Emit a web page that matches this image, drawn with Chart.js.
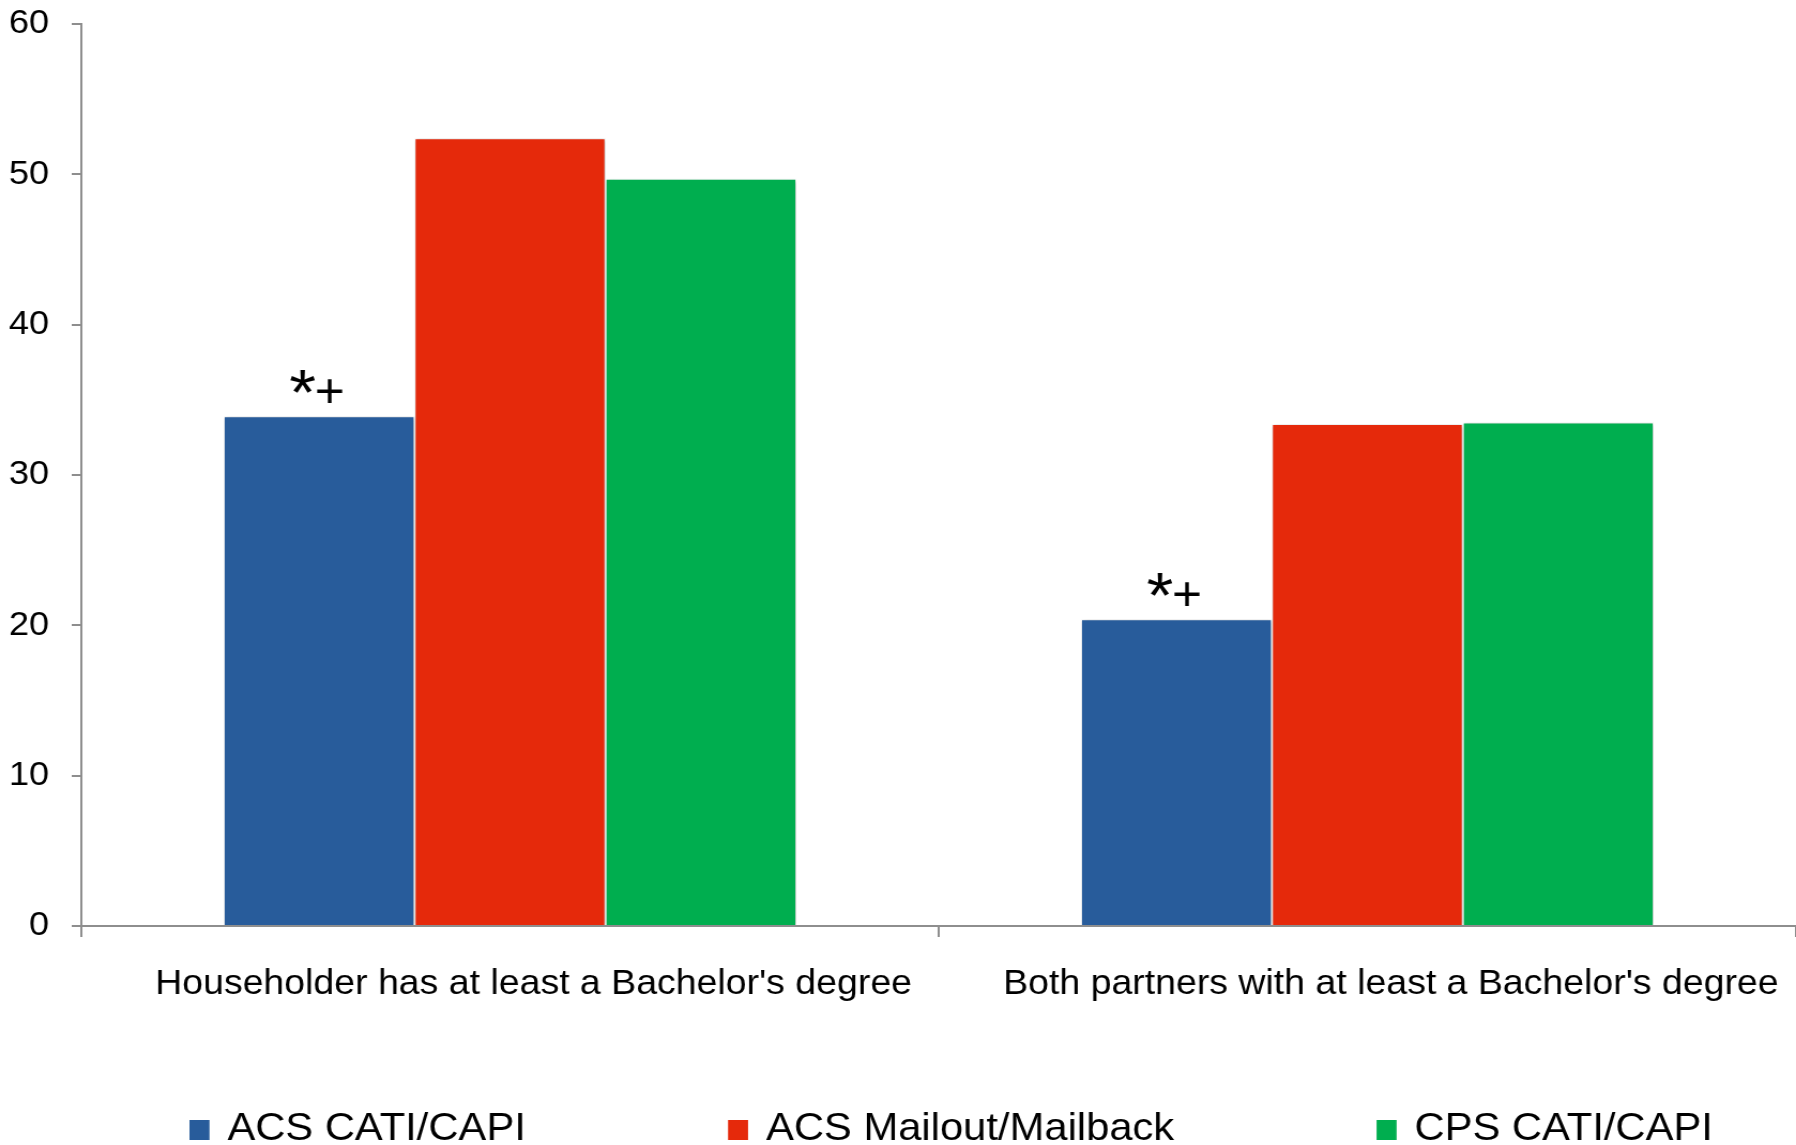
<!DOCTYPE html>
<html>
<head>
<meta charset="utf-8">
<script src="https://cdn.jsdelivr.net/npm/chart.js@4/dist/chart.umd.min.js"></script>
<style>
  html, body { margin: 0; padding: 0; background: #fff; overflow: hidden; }
</style>
</head>
<body>
<canvas id="c" width="1678" height="1145" style="display:block;width:1796px;height:1145px"></canvas>
<script>
// Categories and series
const categories = ["Householder has at least a Bachelor's degree", "Both partners with at least a Bachelor's degree"];
const seriesNames = ['ACS CATI/CAPI', 'ACS Mailout/Mailback', 'CPS CATI/CAPI'];
const acsCatiCapi = [33.9, 20.4];
const acsMailoutMailback = [52.4, 33.4];
const cpsCatiCapi = [49.7, 33.5];
// Significance markers shown above the ACS CATI/CAPI bars
const significanceMarks = ['*+', '*+'];
const yTickValues = [0, 10, 20, 30, 40, 50, 60];

const seriesColors = ['#285C9B', '#E5290B', '#00AE4F'];
const FONT = '"Liberation Sans", Arial, Helvetica, sans-serif';
const AXIS_GREY = '#8e8e8e';

// Soft shadow under the bars
const barShadow = {
  id: 'barShadow',
  beforeDatasetsDraw(chart) {
    const ctx = chart.ctx;
    ctx.save();
    ctx.shadowColor = 'rgba(0,0,0,0.28)';
    ctx.shadowBlur = 4;
    ctx.shadowOffsetX = 1;
    ctx.shadowOffsetY = 1;
  },
  afterDatasetsDraw(chart) {
    chart.ctx.restore();
  }
};

// "*" and "+" markers above the first series' bars
const markers = {
  id: 'markers',
  afterDatasetsDraw(chart) {
    const ctx = chart.ctx;
    const meta = chart.getDatasetMeta(0);
    ctx.save();
    ctx.fillStyle = '#000';
    ctx.textBaseline = 'alphabetic';
    meta.data.forEach((bar, i) => {
      const mark = significanceMarks[i];
      if (!mark) return;
      const star = mark.charAt(0);
      const plus = mark.charAt(1);
      ctx.font = '48px ' + FONT;
      ctx.textAlign = 'right';
      ctx.fillText(plus, bar.x + 24, bar.y - 9);
      ctx.font = '64px ' + FONT;
      ctx.textAlign = 'left';
      ctx.fillText(star, bar.x - 28, bar.y - 1);
    });
    ctx.restore();
  }
};

// Legend row along the bottom edge
const bottomLegend = {
  id: 'bottomLegend',
  afterDraw(chart) {
    const ctx = chart.ctx;
    ctx.save();
    ctx.font = '39px ' + FONT;
    ctx.textBaseline = 'alphabetic';
    ctx.textAlign = 'left';
    const baseline = 1140;
    const boxW = 18.7, boxH = 20, gap = 16.7, spacing = 189;
    let x = chart.chartArea.left + 101;
    seriesNames.forEach((name, i) => {
      ctx.fillStyle = seriesColors[i];
      ctx.fillRect(x, baseline - boxH, boxW, boxH);
      ctx.fillStyle = '#000';
      ctx.fillText(name, x + boxW + gap, baseline);
      x += boxW + gap + ctx.measureText(name).width + spacing;
    });
    ctx.restore();
  }
};

const seriesValues = [acsCatiCapi, acsMailoutMailback, cpsCatiCapi];

new Chart(document.getElementById('c'), {
  type: 'bar',
  data: {
    labels: categories,
    datasets: seriesNames.map((name, i) => ({
      label: name,
      data: seriesValues[i],
      backgroundColor: seriesColors[i],
      borderColor: '#ffffff',
      borderWidth: 1,
      borderSkipped: 'bottom',
      barPercentage: 1,
      categoryPercentage: 0.668
    }))
  },
  options: {
    responsive: false,
    animation: false,
    devicePixelRatio: 1,
    layout: { padding: { top: 24, left: 0, right: 0, bottom: 119 } },
    plugins: {
      legend: { display: false },
      tooltip: { enabled: false },
      title: { display: false }
    },
    scales: {
      x: {
        grid: {
          display: true,
          offset: true,
          drawOnChartArea: false,
          drawTicks: true,
          tickLength: 11,
          lineWidth: 2,
          color: (c) => (c.index >= categories.length ? 'rgba(0,0,0,0)' : AXIS_GREY)
        },
        border: { display: true, color: AXIS_GREY, width: 2 },
        ticks: {
          color: '#000',
          font: { family: FONT, size: 35 },
          padding: 26,
          labelOffset: 22,
          maxRotation: 0,
          autoSkip: false
        },
        afterFit(scale) {
          scale.height = 100;
          scale.paddingLeft = 0;
          scale.paddingRight = 0;
        }
      },
      y: {
        min: 0,
        max: 60,
        afterBuildTicks(scale) { scale.ticks = yTickValues.map(v => ({ value: v })); },
        grid: {
          display: true,
          drawOnChartArea: false,
          drawTicks: true,
          tickLength: 9,
          lineWidth: 2,
          color: AXIS_GREY
        },
        border: { display: true, color: AXIS_GREY, width: 2 },
        ticks: {
          color: '#000',
          font: { family: FONT, size: 34 },
          padding: 21
        },
        afterFit(scale) {
          scale.width = 76;
          scale.paddingTop = 0;
          scale.paddingBottom = 0;
        }
      }
    }
  },
  plugins: [barShadow, markers, bottomLegend]
});
</script>
</body>
</html>
